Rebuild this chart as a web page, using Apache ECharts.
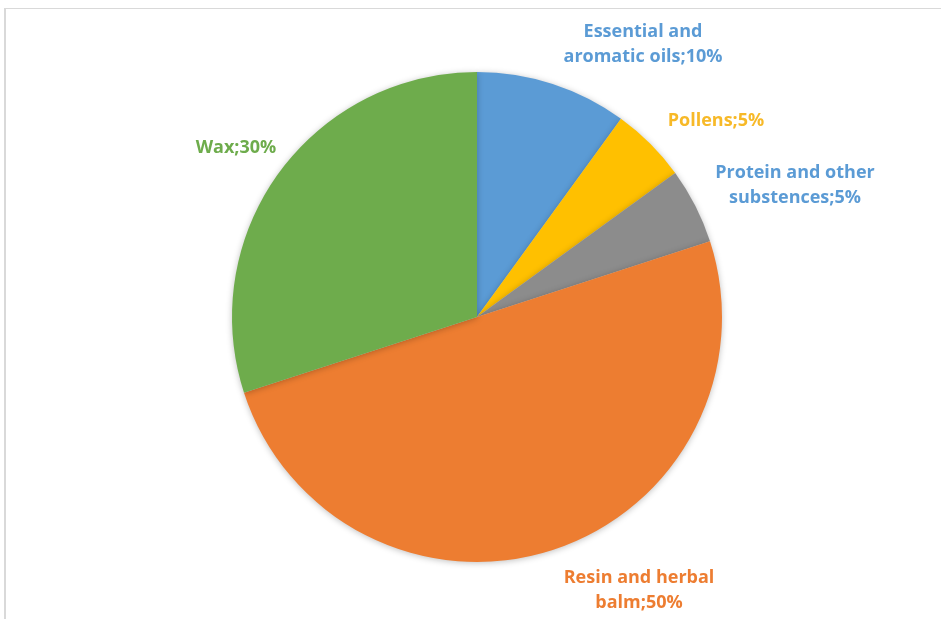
<!DOCTYPE html>
<html>
<head>
<meta charset="utf-8">
<script src="https://cdn.jsdelivr.net/npm/echarts@6/dist/echarts.min.js"></script>
<style>
html, body { margin: 0; padding: 0; background: #fff; }
#frame { position: absolute; left: 4px; top: 8px; width: 960px; height: 640px;
  border-top: 1px solid #d9d9d9; border-left: 2px solid #d9d9d9; }
#chart { position: absolute; left: 0; top: 0; width: 941px; height: 619px; }
</style>
</head>
<body>
<div id="frame"></div>
<div id="chart"></div>
<script>
// data
var names = ['Essential and\naromatic oils', 'Pollens', 'Protein and other\nsubstences', 'Resin and herbal\nbalm', 'Wax'];
var values = [10, 5, 5, 50, 30];
var sliceColors = ['#5b9bd5', '#ffc000', '#8c8c8c', '#ed7d31', '#6eac4c'];
var labelColors = ['#5b9bd5', '#f7b928', '#5b9bd5', '#ed7d31', '#6eac4c'];
// label centres in px
var labelPos = [[643, 44], [716, 121], [795, 185], [639, 590], [236, 148]];

var chart = echarts.init(document.getElementById('chart'));

var seriesData = names.map(function (n, i) {
    return {
        name: n,
        value: values[i],
        itemStyle: { color: sliceColors[i] },
        label: { color: labelColors[i] }
    };
});

var option = {
    animation: false,
    series: [
        {
            type: 'pie',
            center: [477, 317],
            radius: 245,
            startAngle: 90,
            clockwise: true,
            itemStyle: {
                shadowBlur: 6,
                shadowColor: 'rgba(0,0,0,0.25)',
                shadowOffsetY: 1
            },
            label: {
                show: true,
                position: 'outside',
                formatter: function (p) { return p.name + ';' + p.value + '%'; },
                fontFamily: 'Open Sans',
                fontWeight: 'bold',
                fontSize: 18,
                lineHeight: 25,
                align: 'center'
            },
            labelLine: { show: false },
            labelLayout: function (params) {
                var pos = labelPos[params.dataIndex];
                return {
                    x: pos[0],
                    y: pos[1],
                    align: 'center',
                    verticalAlign: 'middle'
                };
            },
            emphasis: { disabled: true },
            data: seriesData
        }
    ]
};
chart.setOption(option);
</script>
</body>
</html>
